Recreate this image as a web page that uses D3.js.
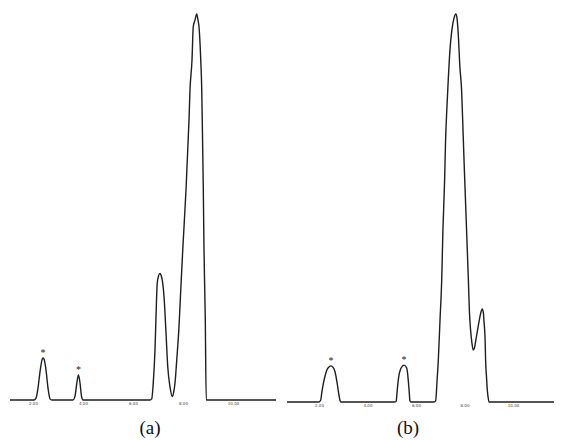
<!DOCTYPE html>
<html>
<head>
<meta charset="utf-8">
<script src="https://cdn.jsdelivr.net/npm/d3@7"></script>
<style>
  html, body { margin: 0; padding: 0; background: #fff; }
  svg { display: block; }
</style>
</head>
<body>
<svg id="chart" width="566" height="440"></svg>
<script>
// ---- Data (time in min, signal in % of main peak) ----
const tickValues = [2, 4, 6, 8, 10];
const tickLabels = ["2.00", "4.00", "6.00", "8.00", "10.00"];
const panelLabels = ["(a)", "(b)"];

// Panel (a) trace
const traceA_t = [1.08, 2.04, 2.12, 2.20, 2.28, 2.36, 2.40, 2.44, 2.52, 2.60, 2.68, 2.76,
  3.60, 3.68, 3.76, 3.82, 3.88, 3.94, 4.00,
  6.68, 6.75, 6.81, 6.88, 6.92, 6.97, 7.02, 7.08, 7.12, 7.17, 7.25, 7.32, 7.39, 7.48, 7.57,
  7.62, 7.68, 7.75, 7.84, 7.91, 7.99, 8.12, 8.24, 8.28, 8.36, 8.41, 8.48, 8.55,
  8.60, 8.64, 8.71, 8.75, 8.77, 8.81, 8.84, 8.89, 8.93, 11.72];
const traceA_v = [0, 0, 0.5, 3.1, 7.3, 10.4, 10.9, 10.6, 7.8, 3.1, 0.3, 0,
  0, 1.0, 4.7, 6.5, 4.4, 1.0, 0,
  0, 0.3, 4.4, 13.0, 21.6, 30.3, 32.1, 32.8, 32.4, 31.1, 25.9, 17.4, 8.6, 3.4, 0.9,
  1.8, 4.4, 10.4, 19.0, 28.5, 38.9, 54.4, 72.5, 80.3, 88.1, 96.7, 98.4, 100,
  98.4, 96.7, 88.1, 80.3, 72.5, 55.7, 38.9, 21.5, 0, 0];
const starsA_t = [2.40, 3.82];
const starsA_v = [10.9, 6.5];

// Panel (b) trace
const traceB_t = [0.68, 2.00, 2.07, 2.12, 2.18, 2.25, 2.32, 2.41, 2.49, 2.58, 2.66, 2.75, 2.81, 2.87, 2.91,
  5.09, 5.18, 5.22, 5.27, 5.38, 5.51, 5.62, 5.68, 5.72, 5.75, 5.79,
  6.74, 6.81, 6.87, 6.92, 6.99, 7.06, 7.11, 7.18, 7.22, 7.27, 7.33, 7.40, 7.48, 7.57, 7.64,
  7.69, 7.74, 7.81, 7.88, 7.92, 7.98, 8.04, 8.10, 8.16, 8.20, 8.25, 8.30, 8.36,
  8.41, 8.47, 8.54, 8.61, 8.68, 8.73, 8.78, 8.80, 8.85, 8.87, 8.91, 8.94, 8.98, 9.01, 11.69];
const traceB_v = [0, 0, 0.5, 2.6, 4.8, 6.7, 8.2, 9.0, 9.3, 8.9, 7.8, 4.8, 2.3, 0.3, 0,
  0, 0.1, 2.6, 5.7, 8.7, 9.5, 8.7, 5.7, 2.6, 0.3, 0,
  0, 0.3, 5.7, 10.8, 21.1, 31.4, 44.3, 57.2, 67.5, 75.3, 83.0, 90.7, 95.9, 99.0, 100,
  99.0, 95.1, 86.3, 80.4, 73.5, 62.4, 52.1, 41.8, 31.4, 23.7, 18.6, 15.5, 13.4,
  13.9, 16.0, 18.6, 21.1, 23.2, 24.0, 22.9, 21.1, 16.0, 10.8, 6.2, 3.1, 1.0, 0, 0];
const starsB_t = [2.49, 5.51];
const starsB_v = [9.3, 9.5];

// ---- Drawing ----
const svg = d3.select("#chart");

const panels = [
  { t: traceA_t, v: traceA_v, st: starsA_t, sv: starsA_v, label: panelLabels[0],
    xr: [33, 233], yr: [400, 14], labelX: 150 },
  { t: traceB_t, v: traceB_v, st: starsB_t, sv: starsB_v, label: panelLabels[1],
    xr: [319, 513], yr: [402, 14], labelX: 408 }
];

panels.forEach(p => {
  const x = d3.scaleLinear().domain([2, 10]).range(p.xr);
  const y = d3.scaleLinear().domain([0, 100]).range(p.yr);
  const g = svg.append("g");

  const pts = p.t.map((t, i) => [t, p.v[i]]);
  const line = d3.line().x(d => x(d[0])).y(d => y(d[1])).curve(d3.curveMonotoneX);

  g.append("path")
    .datum(pts)
    .attr("d", line)
    .attr("fill", "none")
    .attr("stroke", "#1e1e1e")
    .attr("stroke-width", 1.4)
    .attr("stroke-linejoin", "round");

  // tiny tick labels under the baseline
  const axis = d3.axisBottom(x)
    .tickValues(tickValues)
    .tickFormat((d, i) => tickLabels[i])
    .tickSize(0)
    .tickPadding(2);
  const ax = g.append("g")
    .attr("transform", `translate(0,${y(0)})`)
    .call(axis);
  ax.select(".domain").remove();
  ax.selectAll("text")
    .attr("font-family", "DejaVu Sans, sans-serif")
    .attr("font-size", 4)
    .attr("fill", "#444");

  // asterisks over the small peaks
  g.selectAll("text.star")
    .data(p.st.map((t, i) => [t, p.sv[i]]))
    .enter().append("text")
    .attr("class", "star")
    .attr("x", d => x(d[0]))
    .attr("y", d => y(d[1]) - 2)
    .attr("text-anchor", "middle")
    .attr("font-family", "Liberation Serif, serif")
    .attr("font-size", 10)
    .attr("fill", "#222")
    .text("*");

  // panel label
  g.append("text")
    .attr("x", p.labelX)
    .attr("y", 434)
    .attr("text-anchor", "middle")
    .attr("font-family", "Liberation Serif, Times New Roman, serif")
    .attr("font-size", 19)
    .attr("fill", "#111")
    .text(p.label);
});
</script>
</body>
</html>
